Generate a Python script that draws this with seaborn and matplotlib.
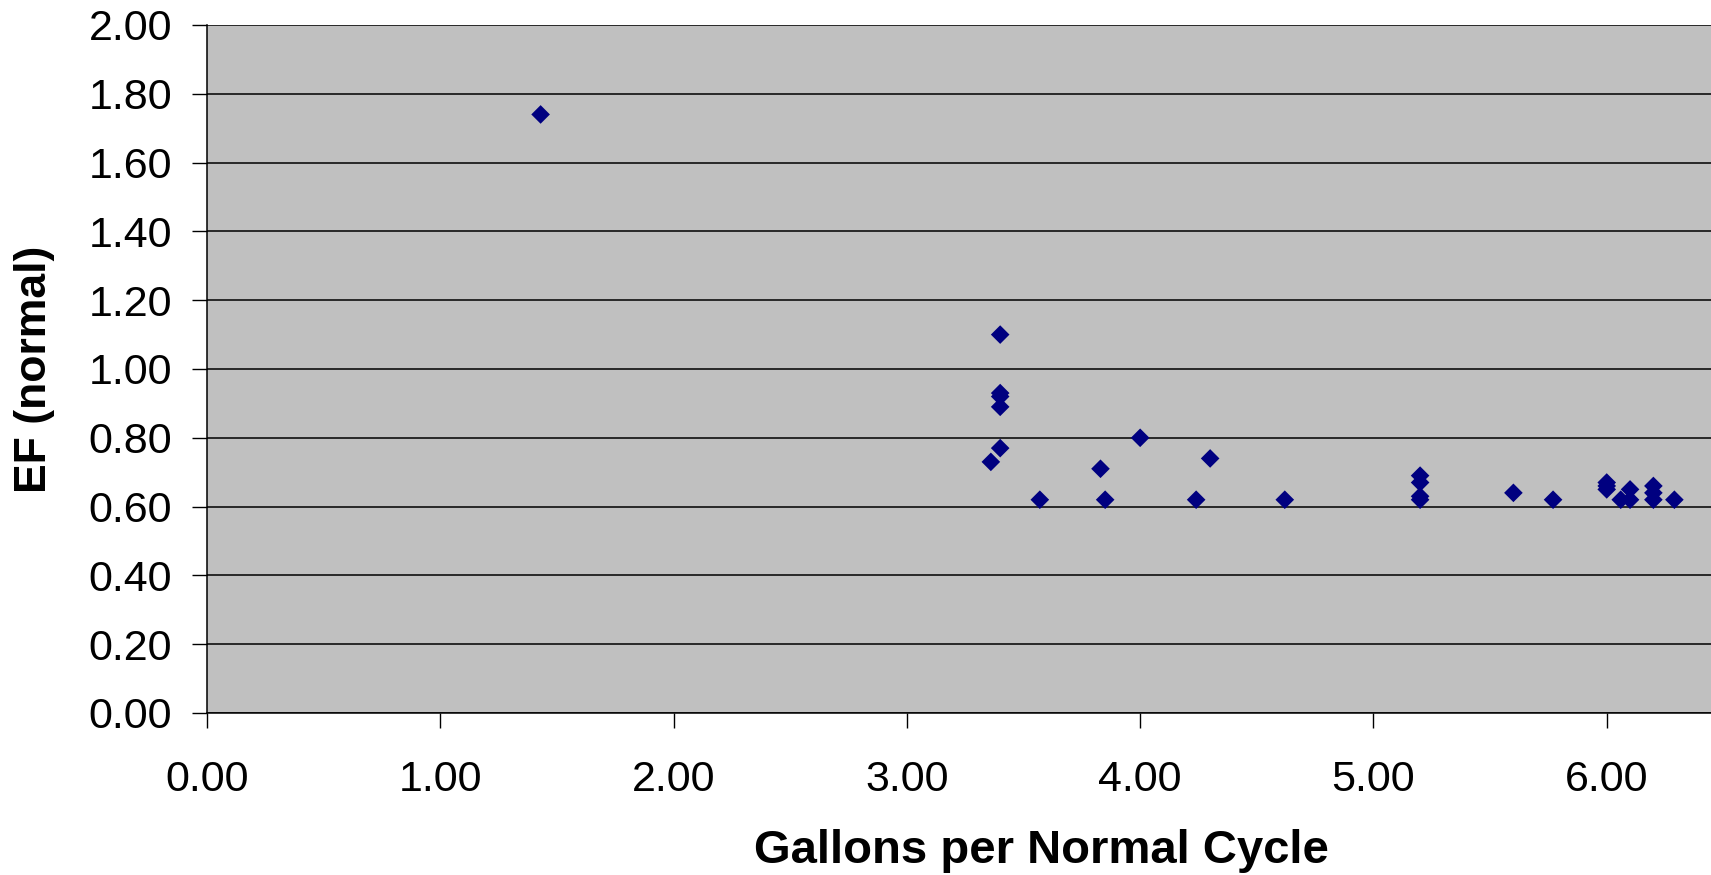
import matplotlib
matplotlib.use("Agg")
import matplotlib.pyplot as plt
import seaborn as sns
import pandas as pd

gallons = [1.43, 3.40, 3.40, 3.40, 3.40, 3.40, 3.36, 3.57, 3.83, 3.85, 4.00,
           4.24, 4.30, 4.62, 5.20, 5.20, 5.20, 5.20, 5.60, 5.77, 6.00, 6.00,
           6.00, 6.06, 6.10, 6.10, 6.20, 6.20, 6.20, 6.29]
ef = [1.74, 1.10, 0.93, 0.92, 0.89, 0.77, 0.73, 0.62, 0.71, 0.62, 0.80,
      0.62, 0.74, 0.62, 0.69, 0.67, 0.63, 0.62, 0.64, 0.62, 0.67, 0.66,
      0.65, 0.62, 0.65, 0.62, 0.66, 0.64, 0.62, 0.62]
x_ticks = [0, 1, 2, 3, 4, 5, 6]
y_ticks = [0.0, 0.2, 0.4, 0.6, 0.8, 1.0, 1.2, 1.4, 1.6, 1.8, 2.0]

df = pd.DataFrame({"Gallons per Normal Cycle": gallons, "EF (normal)": ef})

sns.set_style("white")
plt.rcParams["font.family"] = ["Liberation Sans", "DejaVu Sans"]
plt.rcParams["text.color"] = "black"
plt.rcParams["axes.labelcolor"] = "black"
plt.rcParams["xtick.color"] = "black"
plt.rcParams["ytick.color"] = "black"

fig = plt.figure(figsize=(17.11, 8.75), dpi=100)
ax = fig.add_axes([207 / 1711, 1 - 713 / 875, 1 - 207 / 1711, (713 - 25) / 875])
ax.set_facecolor("#C0C0C0")

sns.scatterplot(data=df, x="Gallons per Normal Cycle", y="EF (normal)", ax=ax,
                marker="D", s=90, color="#000080", edgecolor="none", zorder=3)

ax.set_xlim(0, 6.447)
ax.set_ylim(0, 2.0)
ax.set_xticks(x_ticks)
ax.set_xticklabels([f"{v:.2f}" for v in x_ticks])
ax.set_yticks(y_ticks)
ax.set_yticklabels([f"{v:.2f}" for v in y_ticks])
ax.yaxis.grid(True, color="black", linewidth=1.1)
ax.set_axisbelow(True)

for side in ["top", "right"]:
    ax.spines[side].set_visible(False)
for side in ["left", "bottom"]:
    ax.spines[side].set_color("black")
    ax.spines[side].set_linewidth(1.1)

ax.tick_params(axis="y", which="major", direction="out", length=11, width=1.0,
               colors="black", labelsize=31, pad=14, left=True)
ax.tick_params(axis="x", which="major", direction="out", length=11, width=1.0,
               colors="black", labelsize=31, pad=23, bottom=True)

ax.set_xlabel("Gallons per Normal Cycle", fontsize=34, fontweight="bold")
ax.set_ylabel("EF (normal)", fontsize=32, fontweight="bold")
ax.xaxis.set_label_coords((1041 - 207) / 1504, -(851 - 713) / 688, transform=ax.transAxes)
ax.xaxis.label.set_va("center")
ax.yaxis.set_label_coords(-(207 - 35) / 1504, 0.5, transform=ax.transAxes)
ax.yaxis.label.set_va("center")

fig.savefig("out.png", dpi=100)
